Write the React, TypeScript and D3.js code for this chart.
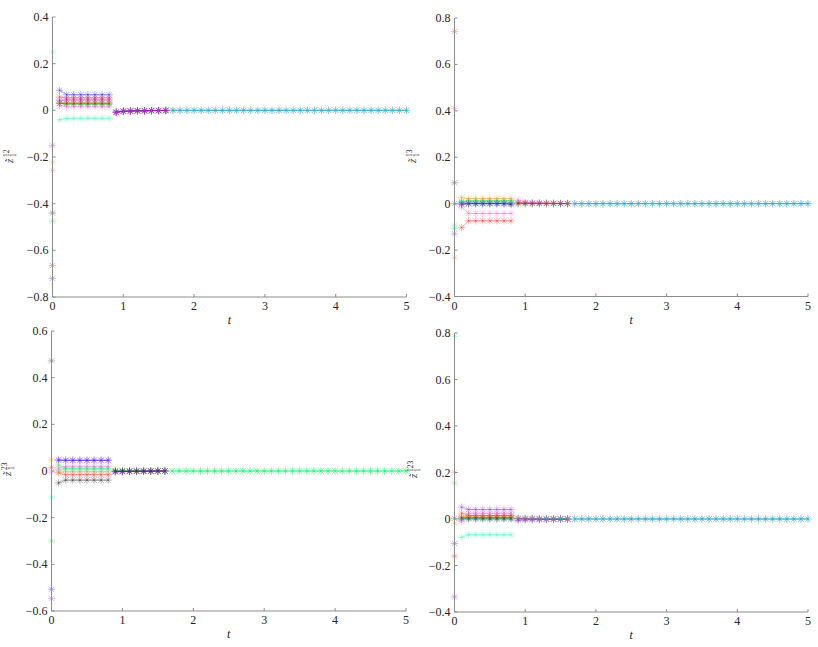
import React from "react";
import * as d3 from "d3";

const _ = null;
// time samples t = 0, 0.1, ..., 5
const T = [0,0.1,0.2,0.3,0.4,0.5,0.6,0.7,0.8,0.9,1,1.1,1.2,1.3,1.4,1.5,1.6,1.7,1.8,1.9,2,2.1,2.2,2.3,2.4,2.5,2.6,2.7,2.8,2.9,3,3.1,3.2,3.3,3.4,3.5,3.6,3.7,3.8,3.9,4,4.1,4.2,4.3,4.4,4.5,4.6,4.7,4.8,4.9,5];
const Z34 = [0,0,0,0,0,0,0,0,0,0,0,0,0,0,0,0,0,0,0,0,0,0,0,0,0,0,0,0,0,0,0,0,0,0];
const N34 = [_,_,_,_,_,_,_,_,_,_,_,_,_,_,_,_,_,_,_,_,_,_,_,_,_,_,_,_,_,_,_,_,_,_];
const N8 = [_,_,_,_,_,_,_,_];

const seriesNames = ["red","blue","green","black","orange","purple","pink","spring"];
const seriesColors = ["#ff0000","#0000ff","#00e000","#000000","#ff8000","#8000ff","#ff40ff","#00ff99"];

// panel z12
const z12_red = [-0.665,0.057,0.053,0.053,0.053,0.053,0.053,0.053,0.053,-0.010,-0.004,-0.003,-0.002,-0.002,-0.001,-0.001,-0.001,...N34];
const z12_blue = [-0.72,0.086,0.067,0.067,0.067,0.067,0.067,0.067,0.067,-0.008,-0.003,-0.003,-0.002,-0.002,-0.001,-0.001,0,...Z34];
const z12_green = [-0.475,0.030,0.025,0.025,0.025,0.025,0.025,0.025,0.025,...N8,0,...N34.slice(1)];
const z12_black = [-0.44,0.030,0.030,0.030,0.030,0.030,0.030,0.030,0.030,-0.006,-0.004,-0.003,-0.002,-0.002,-0.001,-0.001,0,...N34];
const z12_orange = [-0.222,0.035,0.035,0.035,0.035,0.035,0.035,0.035,0.035,...N8,...N34];
const z12_purple = [-0.15,0.043,0.045,0.045,0.045,0.045,0.045,0.045,0.045,-0.010,-0.005,-0.004,-0.003,-0.002,-0.002,-0.001,-0.001,...N34];
const z12_pink = [-0.257,0.020,0.015,0.015,0.015,0.015,0.015,0.015,0.015,-0.008,-0.004,-0.003,-0.002,-0.002,-0.001,-0.001,0,...N34];
const z12_spring = [0.25,-0.040,-0.034,-0.034,-0.034,-0.034,-0.034,-0.034,-0.034,...N8,_,...Z34.slice(1)];

// panel z13
const z13_red = [0.742,-0.103,-0.074,-0.074,-0.074,-0.074,-0.074,-0.074,-0.074,0.005,0.004,0.003,0.003,0.002,0.002,0.001,0.001,...N34];
const z13_blue = [0,0,0,0,0,0,0,0,0,...N8,...Z34];
const z13_green = [-0.107,0.010,0.013,0.013,0.013,0.013,0.013,0.013,0.013,0.002,0.002,0.001,0.001,0.001,0.001,0,0,...N34];
const z13_black = [0.09,-0.004,0,0,0,0,0,0,-0.004,0,0,0,0,0,0,0,0,...N34];
const z13_orange = [-0.233,0.027,0.022,0.022,0.022,0.022,0.022,0.022,0.022,...N8,...N34];
const z13_purple = [-0.13,0.005,0.003,0.003,0.003,0.003,0.003,0.003,0.003,...N8,...N34];
const z13_pink = [0.41,-0.015,-0.042,-0.042,-0.042,-0.042,-0.042,-0.042,-0.042,0.015,0.006,0.005,0.004,0.003,0.002,0.002,0.001,...N34];
const z13_spring = [-0.093,0.010,0.008,0.008,0.008,0.008,0.008,0.008,0.008,...N8,...Z34];

// panel z23
const z23_red = [0.014,-0.008,-0.016,-0.016,-0.016,-0.016,-0.016,-0.016,-0.016,-0.002,-0.002,-0.001,-0.001,-0.001,0,0,0,...N34];
const z23_blue = [-0.507,0.045,0.045,0.045,0.045,0.045,0.045,0.045,0.045,-0.003,-0.002,-0.002,-0.001,-0.001,-0.001,0,0,...N34];
const z23_green = [-0.3,0.026,0.012,0.012,0.012,0.012,0.012,0.012,0.012,0.002,0.002,0.001,0.001,0.001,0,0,0,...Z34];
const z23_black = [0.472,-0.051,-0.039,-0.039,-0.039,-0.039,-0.039,-0.039,-0.039,0,0,0,0,0,0,0,0,...N34];
const z23_orange = [0.048,-0.005,-0.003,-0.003,-0.003,-0.003,-0.003,-0.003,-0.003,...N8,...N34];
const z23_purple = [-0.546,0.050,0.047,0.047,0.047,0.047,0.047,0.047,0.047,-0.004,-0.003,-0.002,-0.002,-0.001,-0.001,0,0,...N34];
const z23_pink = [-0.005,0.012,0.020,0.020,0.020,0.020,0.020,0.020,0.020,...N8,...N34];
const z23_spring = [-0.112,0.005,0.008,0.008,0.008,0.008,0.008,0.008,0.008,...N8,...Z34];

// panel z123
const z123_red = [-0.16,0.025,0.015,0.015,0.015,0.015,0.015,0.015,0.015,0.002,0.001,0.001,0.001,0,0,0,0,...N34];
const z123_blue = [-0.105,0,0,0,0,0,0,0,0,...N8,...Z34];
const z123_green = [0.155,0,0.003,0.003,0.003,0.003,0.003,0.003,0.003,...N8,...N34];
const z123_black = [0.003,0.005,0.005,0.005,0.005,0.005,0.005,0.005,0.005,0,0,0,0,0,0,0,0,...N34];
const z123_orange = [-0.018,0.010,0.010,0.010,0.010,0.010,0.010,0.010,0.010,...N8,...N34];
const z123_purple = [-0.335,0.051,0.041,0.041,0.041,0.041,0.041,0.041,0.041,-0.006,-0.004,-0.003,-0.003,-0.002,-0.002,-0.001,-0.001,...N34];
const z123_pink = [0.2,-0.010,0.025,0.025,0.025,0.025,0.025,0.025,0.025,0.003,0.002,0.002,0.001,0.001,0.001,0,0,...N34];
const z123_spring = [0.785,-0.079,-0.068,-0.068,-0.068,-0.068,-0.068,-0.068,-0.068,0.006,0.005,0.004,0.003,0.003,0.002,0.002,0.001,...Z34];

const xTicks = [0,1,2,3,4,5];
const yTicks12 = [-0.8,-0.6,-0.4,-0.2,0,0.2,0.4];
const yTicks13 = [-0.4,-0.2,0,0.2,0.4,0.6,0.8];
const yTicks23 = [-0.6,-0.4,-0.2,0,0.2,0.4,0.6];
const yTicks123 = [-0.4,-0.2,0,0.2,0.4,0.6,0.8];

const panels = [
  { sup: "12", series: [z12_red,z12_blue,z12_green,z12_black,z12_orange,z12_purple,z12_pink,z12_spring], yTicks: yTicks12,
    x0: 52.5, x1: 406.5, y0: 17, y1: 297, lx: 13, ly: 157 },
  { sup: "13", series: [z13_red,z13_blue,z13_green,z13_black,z13_orange,z13_purple,z13_pink,z13_spring], yTicks: yTicks13,
    x0: 454.5, x1: 808, y0: 18, y1: 296.5, lx: 416, ly: 157 },
  { sup: "23", series: [z23_red,z23_blue,z23_green,z23_black,z23_orange,z23_purple,z23_pink,z23_spring], yTicks: yTicks23,
    x0: 51.5, x1: 406, y0: 331, y1: 611, lx: 11, ly: 470 },
  { sup: "123", series: [z123_red,z123_blue,z123_green,z123_black,z123_orange,z123_purple,z123_pink,z123_spring], yTicks: yTicks123,
    x0: 454.5, x1: 808, y0: 333, y1: 612, lx: 417, ly: 472 },
];

const FONT = "Liberation Serif";
const AXIS = "#8c8c8c";
const TEXT = "#262626";

function segOf(i: number) {
  return i === 0 ? 0 : i <= 8 ? 1 : i <= 16 ? 2 : 3;
}

function fmt(v: number) {
  if (Math.abs(v) < 1e-9) return "0";
  const s = d3.format(".1f")(Math.abs(v));
  return (v < 0 ? "\u2212" : "") + s;
}

const S = 3.7;
const D = S * 0.72;
const starPath = `M${-S},0H${S}M0,${-S}V${S}M${-D},${-D}L${D},${D}M${-D},${D}L${D},${-D}`;

function Panel({ p }: { p: any }) {
  const x = d3.scaleLinear().domain([0, 5]).range([p.x0, p.x1]);
  const yDom = d3.extent(p.yTicks) as [number, number];
  const y = d3.scaleLinear().domain(yDom).range([p.y1, p.y0]);
  const line = d3
    .line<[number, number]>()
    .x((d) => x(d[0]))
    .y((d) => y(d[1]));

  const lines: any[] = [];
  const markers: any[] = [];
  p.series.forEach((vals: (number | null)[], si: number) => {
    const col = seriesColors[si];
    for (let s = 1; s <= 3; s++) {
      const pts: [number, number][] = [];
      vals.forEach((v, i) => {
        if (v !== null && segOf(i) === s) pts.push([T[i], v]);
      });
      if (pts.length > 1)
        lines.push(
          <path key={`l${si}-${s}`} d={line(pts) || ""} fill="none" stroke={col} strokeOpacity={0.3} strokeWidth={1} />
        );
    }
    vals.forEach((v, i) => {
      if (v === null) return;
      markers.push(
        <path key={`m${si}-${i}`} d={starPath} transform={`translate(${x(T[i])},${y(v)})`} fill="none"
          stroke={col} strokeOpacity={0.32} strokeWidth={0.9} />
      );
    });
  });

  return (
    <g>
      <g>{lines}</g>
      <g>{markers}</g>
      <line x1={p.x0} x2={p.x0} y1={p.y0} y2={p.y1} stroke={AXIS} strokeWidth={1} />
      <line x1={p.x0} x2={p.x1} y1={p.y1} y2={p.y1} stroke={AXIS} strokeWidth={1} />
      {p.yTicks.map((t: number) => (
        <g key={`yt${t}`}>
          <line x1={p.x0} x2={p.x0 + 3} y1={y(t)} y2={y(t)} stroke={AXIS} strokeWidth={1} />
          <text x={p.x0 - 4} y={y(t) + 4} textAnchor="end" style={{ fontFamily: FONT, fontSize: 12 }} fill={TEXT}>
            {fmt(t)}
          </text>
        </g>
      ))}
      {xTicks.map((t) => (
        <g key={`xt${t}`}>
          <line x1={x(t)} x2={x(t)} y1={p.y1} y2={p.y1 - 3} stroke={AXIS} strokeWidth={1} />
          <text x={x(t)} y={p.y1 + 13} textAnchor="middle" style={{ fontFamily: FONT, fontSize: 12 }} fill={TEXT}>
            {t}
          </text>
        </g>
      ))}
      <text x={(p.x0 + p.x1) / 2} y={p.y1 + 27} textAnchor="middle" style={{ fontFamily: FONT, fontSize: 12, fontStyle: "italic" }} fill={TEXT}>
        t
      </text>
      <g transform={`translate(${p.lx},${p.ly}) rotate(-90)`}>
        <text x={-6} y={0} style={{ fontFamily: FONT, fontSize: 11, fontStyle: "italic" }} fill={TEXT}>
          {"z\u0303"}
        </text>
        <text x={0} y={-4.5} style={{ fontFamily: FONT, fontSize: 7.5 }} fill={TEXT}>
          {p.sup}
        </text>
        <text x={0} y={3} style={{ fontFamily: FONT, fontSize: 7.5 }} fill={TEXT}>
          1
        </text>
      </g>
    </g>
  );
}

export default function App() {
  return (
    <svg width={818} height={647} style={{ position: "absolute", left: 0, top: 0, background: "#fff" }}>
      <rect width={818} height={647} fill="#fff" />
      {panels.map((p, i) => (
        <Panel key={i} p={p} />
      ))}
    </svg>
  );
}
